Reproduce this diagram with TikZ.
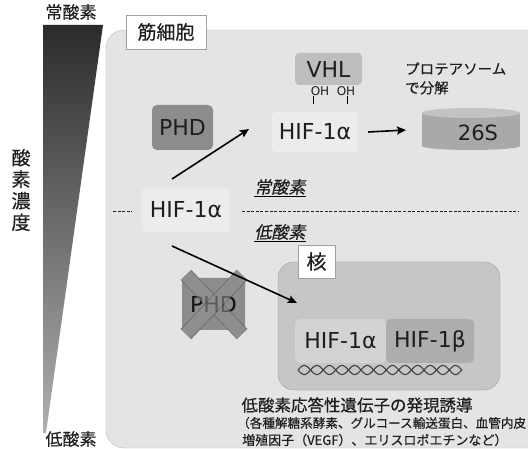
\documentclass[tikz,border=0pt]{standalone}
\usepackage{fontspec}
\setmainfont{DejaVu Sans}
\newfontfamily\jp{Noto Sans CJK JP}[FakeBold=0.4]
\newfontfamily\jpit{Noto Sans CJK JP}[FakeSlant=0.2,FakeBold=0.4]
\usetikzlibrary{arrows.meta}
\definecolor{txt}{HTML}{1E1E1E}
\definecolor{wtop}{HTML}{2B2B2B}
\definecolor{wbot}{HTML}{B0B0B0}
\definecolor{cellfill}{HTML}{E4E4E4}
\definecolor{cellline}{HTML}{BDBDBD}
\definecolor{boxline}{HTML}{A0A0A0}
\definecolor{phdfill}{HTML}{8C8C8C}
\definecolor{vhlfill}{HTML}{BEBEBE}
\definecolor{hiffaint}{HTML}{ECECEC}
\definecolor{cylside}{HTML}{A9A9A9}
\definecolor{cyltop}{HTML}{C3C3C3}
\definecolor{nucfill}{HTML}{C6C6C6}
\definecolor{nucline}{HTML}{9E9E9E}
\definecolor{hifa}{HTML}{D3D3D3}
\definecolor{hifb}{HTML}{ADADAD}
\definecolor{crossline}{HTML}{6A6A6A}
\definecolor{crossfill}{HTML}{8E8E8E}
\tikzset{
  jpf/.style={font=\jp\fontsize{#1}{#1}\selectfont},
  lat/.style={font=\fontsize{#1}{#1}\selectfont},
  arr/.style={-{Stealth[length=9pt,width=8pt,inset=1.5pt]}, line width=1.6pt, black},
  labelbox/.style={draw=boxline, fill=white},
  dashline/.style={dash pattern=on 3pt off 1.6pt, line width=0.9pt, draw=txt},
  crossarm/.style={draw=crossline, line width=0.8pt, double=crossfill, double distance=13pt},
  dna/.style={line width=1.1pt, draw=txt!85},
}
\begin{document}
\begin{tikzpicture}[x=1pt,y=-1pt, every node/.style={inner sep=0pt, text=txt}]
\useasboundingbox (0,0) rectangle (528,449);
\clip (0,0) rectangle (528,449);
% oxygen gradient wedge
\shade[top color=wtop, bottom color=wbot] (43,25) -- (103,25) -- (46,433) -- (43,433) -- cycle;
\node[jpf=17] (hi) at (71,12) {常酸素};
\node[jpf=17] (lo) at (71,439) {低酸素};
\node[align=center, font=\jp\fontsize{19}{21.5}\selectfont] (conc) at (21,190) {酸\\素\\濃\\度};
% cell
\node[draw=cellline, fill=cellfill, rounded corners=18pt, minimum width=442pt, minimum height=418pt] (cell) at (327,239) {};
\node[labelbox, minimum width=80pt, minimum height=34pt, jpf=19] (cellname) at (166,32) {筋細胞};
% normoxia
\node[fill=phdfill, rounded corners=5pt, minimum width=61pt, minimum height=45pt, lat=22] (phd) at (182.5,127.5) {PHD};
\node[fill=vhlfill, rounded corners=4pt, minimum width=67pt, minimum height=32pt, lat=22] (vhl) at (328.5,69) {VHL};
\node[lat=12] (oh1) at (320,91) {OH};
\node[lat=12] (oh2) at (346,91) {OH};
\draw[line width=0.9pt] ([xshift=-7pt]oh1.south) -- ++(0,8);
\draw[line width=0.9pt] ([xshift=1.5pt]oh2.south) -- ++(0,8);
\node[fill=hiffaint, rounded corners=4pt, minimum width=86pt, minimum height=40pt, lat=22] (hifu) at (315,132) {HIF-1α};
% proteasome
\fill[cylside] (422,113) rectangle (520,146);
\fill[cylside] (471,146) ellipse [x radius=49pt, y radius=4pt];
\fill[cyltop] (471,113) ellipse [x radius=49pt, y radius=5pt];
\node[lat=21] (s26) at (478,133) {26S};
\coordinate (s26w) at (406,130);
\node[anchor=north west, align=left, font=\jp\fontsize{14.5}{19}\selectfont] (prot) at (405,62) {プロテアソーム\\で分解};
% middle HIF
\node[fill=hiffaint, rounded corners=4pt, minimum width=88pt, minimum height=45pt, lat=22] (hifm) at (186,210) {HIF-1α};
\coordinate (dl1) at (113,211);
\coordinate (dl2) at (132,211);
\coordinate (dl3) at (242,211);
\coordinate (dl4) at (519,211);
\draw[dashline] (dl1) -- (dl2);
\draw[dashline] (dl3) -- (dl4);
\node[font=\jpit\fontsize{17}{17}\selectfont] (norm) at (280,187) {常酸素};
\draw[line width=0.9pt] ([yshift=-1.5pt]norm.south west) -- ([yshift=-1.5pt]norm.south east);
\node[font=\jpit\fontsize{17}{17}\selectfont] (hypo) at (280,232) {低酸素};
\draw[line width=0.9pt] ([yshift=-1.5pt]hypo.south west) -- ([yshift=-1.5pt]hypo.south east);
% nucleus
\node[draw=nucline, fill=nucfill, rounded corners=16pt, minimum width=222pt, minimum height=128pt] (nuc) at (389,326) {};
\node[labelbox, minimum width=37pt, minimum height=33pt, jpf=20] (kaku) at (316.5,261.5) {核};
\node[fill=hifa, rounded corners=5pt, minimum width=91pt, minimum height=44pt, lat=22] (hifa) at (340.5,341) {HIF-1α};
\node[fill=hifb, rounded corners=5pt, minimum width=88pt, minimum height=44pt, lat=22] (hifb) at (430,341) {HIF-1β};
\draw[dna, domain=0:164, samples=300] plot ({298+\x}, {370+4.5*sin(14.2857*\x)});
\draw[dna, domain=0:164, samples=300] plot ({298+\x}, {370-4.5*sin(14.2857*\x)});
% crossed PHD
\node[fill=phdfill, rounded corners=3pt, minimum width=63pt, minimum height=52pt, lat=22] (phdx) at (213.5,304) {PHD};
\coordinate (c1) at (186,275);
\coordinate (c2) at (242,334);
\coordinate (c3) at (242,275);
\coordinate (c4) at (186,334);
\draw[crossarm] (c1) -- (c2);
\draw[crossarm] (c3) -- (c4);
\node[lat=22, text=black, text opacity=0.35] (phdghost) at (phdx.center) {PHD};
% texts
\node[jpf=16.5] (expr) at (357,405) {低酸素応答性遺伝子の発現誘導};
\node[jpf=12.6, anchor=west] (ex1) at (237,423) {（各種解糖系酵素、グルコース輸送蛋白、血管内皮};
\node[jpf=13, anchor=west] (ex2) at (242,440) {増殖因子（VEGF）、エリスロポエチンなど）};
% arrows
\coordinate (a1s) at (172,179);
\coordinate (a1e) at (249,129);
\coordinate (a2s) at (172,246);
\coordinate (a2e) at (297,303);
\draw[arr] (a1s) -- (a1e);
\draw[arr] ([xshift=10pt]hifu.east) -- (s26w);
\draw[arr] (a2s) -- (a2e);
\end{tikzpicture}
\end{document}
